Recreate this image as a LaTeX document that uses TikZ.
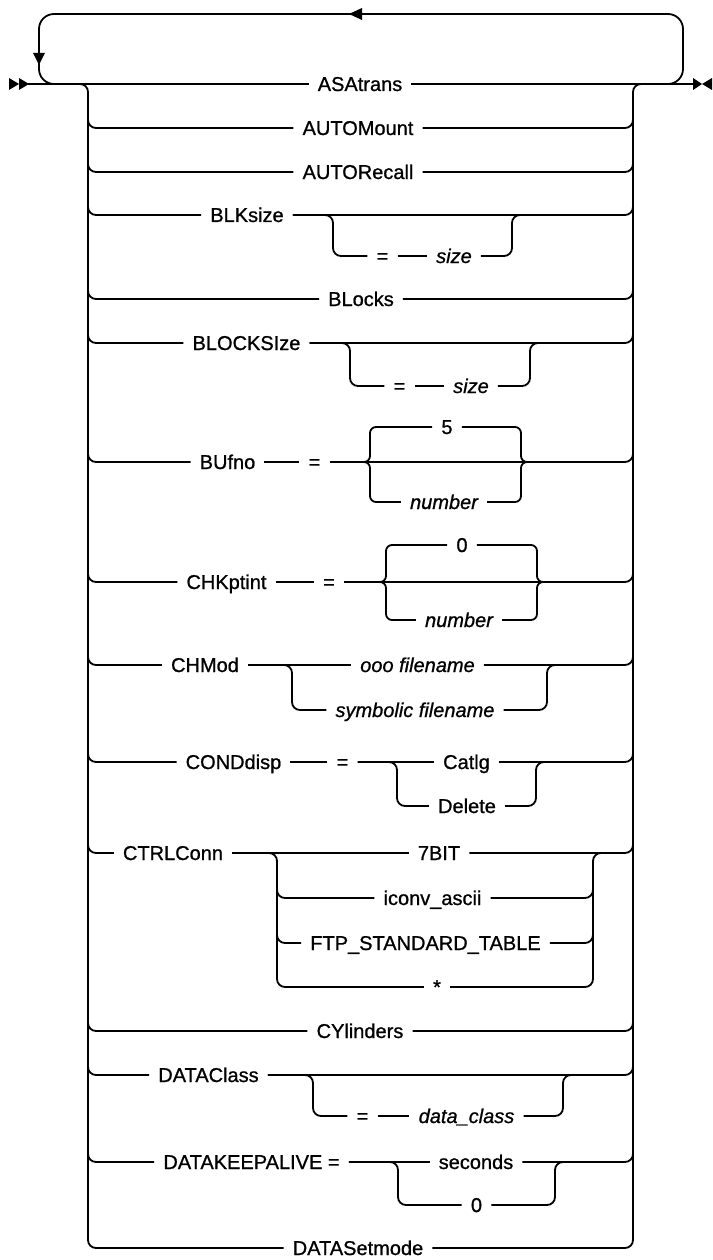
\documentclass[tikz,border=0pt]{standalone}
\usepackage{fontspec}
\setmainfont{Liberation Sans}
\newfontfamily\rrfam{Liberation Sans}[FakeBold=0.9]
\usetikzlibrary{calc}
\newcommand\rrfont{\rrfam\fontsize{20}{24}\selectfont}
\begin{document}
\begin{tikzpicture}[x=1pt,y=-1pt,
  kw/.style={font=\rrfont, inner xsep=9pt, inner ysep=0pt, text height=14pt, text depth=0pt},
  var/.style={kw, font=\rrfont\itshape},
  ln/.style={line width=1.8pt},
  rr/.style={line width=1.8pt, rounded corners=8pt},
  loopln/.style={line width=1.8pt, rounded corners=15pt},
  brc/.style={line width=1.8pt, rounded corners=6pt}]
\useasboundingbox (0,0) rectangle (712,1260);

% ---------- rail coordinates
\coordinate (Sin) at (28,84);
\coordinate (Eout) at (694,84);
\coordinate (Lin) at (70,84);
\coordinate (Ltop) at (88,84);
\coordinate (Lmid) at (88,100);
\coordinate (Rtop) at (633,84);
\coordinate (Rmid) at (633,100);
\coordinate (Rout) at (652,84);
\coordinate (loopA) at (655,84);
\coordinate (loopB) at (683,84);
\coordinate (loopC) at (683,14);
\coordinate (loopD) at (39,14);
\coordinate (loopE) at (39,84);
\coordinate (loopF) at (70,84);
\coordinate (tipTop) at (349,14);
\coordinate (tipLeft) at (39,65);

% ---------- nodes
\node[kw] (asa) at (360,84) {ASAtrans};
\node[kw] (automount) at (358,128) {AUTOMount};
\node[kw] (autorecall) at (358,172) {AUTORecall};
\node[kw] (blk) at (247,215) {BLKsize};
\node[kw] (eq1) at (382.5,256) {=};
\node[var] (size1) at (454,256) {size};
\coordinate (o1L) at (333,215);
\coordinate (o1R) at (512,215);
\node[kw] (blocks) at (361,299) {BLocks};
\node[kw] (blocksize) at (246.5,343) {BLOCKSIze};
\node[kw] (eq2) at (399.5,386) {=};
\node[var] (size2) at (471,386) {size};
\coordinate (o2L) at (350,343);
\coordinate (o2R) at (530,343);
\node[kw] (bufno) at (227.5,462) {BUfno};
\node[kw] (eq3) at (314.5,462) {=};
\node[kw] (five) at (447,427) {5};
\node[var] (num1) at (444,502) {number};
\coordinate (b1L) at (363,462);
\coordinate (b1a) at (370,462);
\coordinate (b1b) at (521,462);
\coordinate (b1R) at (528,462);
\node[kw] (chk) at (226.5,582) {CHKptint};
\node[kw] (eq4) at (329,582) {=};
\node[kw] (zero1) at (462,545) {0};
\node[var] (num2) at (459,620) {number};
\coordinate (b2L) at (380,582);
\coordinate (b2a) at (386,582);
\coordinate (b2b) at (537,582);
\coordinate (b2R) at (543,582);
\node[kw] (chmod) at (205,665) {CHMod};
\node[var] (ooo) at (417.5,665) {ooo filename};
\node[var] (symf) at (415,710) {symbolic filename};
\coordinate (c1L) at (292,665);
\coordinate (c1R) at (547,665);
\node[kw] (cond) at (233.5,762) {CONDdisp};
\node[kw] (eq5) at (342.5,762) {=};
\node[kw] (catlg) at (466.5,762) {Catlg};
\node[kw] (delete) at (467,806) {Delete};
\coordinate (c2L) at (397,762);
\coordinate (c2R) at (536,762);
\node[kw] (ctrl) at (173,853) {CTRLConn};
\node[kw] (bit7) at (439,853) {7BIT};
\node[kw] (iconv) at (432.5,898) {iconv\_ascii};
\node[kw] (ftp) at (425.5,943) {FTP\_STANDARD\_TABLE};
\node[kw] (star) at (437,987) {*};
\coordinate (c3L) at (277,853);
\coordinate (c3Lm) at (277,870);
\coordinate (c3R) at (593,853);
\coordinate (c3Rm) at (593,870);
\node[kw] (cyl) at (360,1031) {CYlinders};
\node[kw] (dclass) at (208.5,1075) {DATAClass};
\node[kw] (eq6) at (362.5,1116) {=};
\node[var] (dcl) at (466.5,1116) {data\_class};
\coordinate (o3L) at (313,1075);
\coordinate (o3R) at (563,1075);
\node[kw] (dka) at (251.5,1162) {DATAKEEPALIVE =};
\node[kw] (sec) at (476,1162) {seconds};
\node[kw] (zero2) at (476.5,1205) {0};
\coordinate (c4L) at (398,1162);
\coordinate (c4R) at (555,1162);
\node[kw] (dset) at (358,1248) {DATASetmode};

% ---------- start / end symbols
\fill (9,78) -- (19,84) -- (9,90) -- cycle;
\fill (19,78) -- (29,84) -- (19,90) -- cycle;
\fill (693,78) -- (702,84) -- (693,90) -- cycle;
\fill (712,78) -- (702,84) -- (712,90) -- cycle;

% ---------- main line and repeat loop
\draw[ln] (Sin) -- (asa.west);
\draw[ln] (asa.east) -- (Eout);
\draw[loopln] (loopA) -- (loopB) -- (loopC) -- (loopD) -- (loopE) -- (loopF);
\fill (tipTop) -- ++(13,-6) -- ++(0,12) -- cycle;
\fill (tipLeft) -- ++(-6,-12) -- ++(12,0) -- cycle;

% ---------- rails
\draw[rr] (Lin) -- (Ltop) |- (dset.west);
\draw[rr] (dset.east) -| (Rtop) -- (Rout);
\foreach \n in {automount,autorecall,blk,blocks,blocksize,bufno,chk,chmod,cond,ctrl,cyl,dclass,dka}
  \draw[rr] (Lmid) |- (\n.west);
\foreach \n in {automount,autorecall,blk,blocks,blocksize,b1R,b2R,ooo,catlg,bit7,cyl,dclass,sec}
  \draw[rr] (\n.east) -| (Rmid);

% ---------- BLKsize [= size]
\draw[rr] (blk.east) -- (o1L) |- (eq1.west);
\draw[ln] (eq1.east) -- (size1.west);
\draw[rr] (size1.east) -| (o1R) -- ++(12,0);

% ---------- BLOCKSIze [= size]
\draw[rr] (blocksize.east) -- (o2L) |- (eq2.west);
\draw[ln] (eq2.east) -- (size2.west);
\draw[rr] (size2.east) -| (o2R) -- ++(12,0);

% ---------- BUfno = {5 | number}
\draw[ln] (bufno.east) -- (eq3.west);
\draw[ln] (eq3.east) -- (b1L) -- (b1R);
\draw[brc] (b1L) -- (b1a) |- (five.west);
\draw[brc] (b1L) -- (b1a) |- (num1.west);
\draw[brc] (five.east) -| (b1b) -- (b1R);
\draw[brc] (num1.east) -| (b1b) -- (b1R);

% ---------- CHKptint = {0 | number}
\draw[ln] (chk.east) -- (eq4.west);
\draw[ln] (eq4.east) -- (b2L) -- (b2R);
\draw[brc] (b2L) -- (b2a) |- (zero1.west);
\draw[brc] (b2L) -- (b2a) |- (num2.west);
\draw[brc] (zero1.east) -| (b2b) -- (b2R);
\draw[brc] (num2.east) -| (b2b) -- (b2R);

% ---------- CHMod
\draw[ln] (chmod.east) -- (ooo.west);
\draw[rr] (chmod.east) -- (c1L) |- (symf.west);
\draw[rr] (symf.east) -| (c1R) -- ++(12,0);

% ---------- CONDdisp
\draw[ln] (cond.east) -- (eq5.west);
\draw[ln] (eq5.east) -- (catlg.west);
\draw[rr] (eq5.east) -- (c2L) |- (delete.west);
\draw[rr] (delete.east) -| (c2R) -- ++(12,0);

% ---------- CTRLConn
\draw[ln] (ctrl.east) -- (bit7.west);
\draw[rr] (ctrl.east) -- (c3L) |- (star.west);
\draw[rr] (c3Lm) |- (iconv.west);
\draw[rr] (c3Lm) |- (ftp.west);
\draw[rr] (star.east) -| (c3R) -- ++(12,0);
\draw[rr] (iconv.east) -| (c3Rm);
\draw[rr] (ftp.east) -| (c3Rm);

% ---------- DATAClass [= data_class]
\draw[rr] (dclass.east) -- (o3L) |- (eq6.west);
\draw[ln] (eq6.east) -- (dcl.west);
\draw[rr] (dcl.east) -| (o3R) -- ++(12,0);

% ---------- DATAKEEPALIVE =
\draw[ln] (dka.east) -- (sec.west);
\draw[rr] (dka.east) -- (c4L) |- (zero2.west);
\draw[rr] (zero2.east) -| (c4R) -- ++(12,0);
\end{tikzpicture}
\end{document}
